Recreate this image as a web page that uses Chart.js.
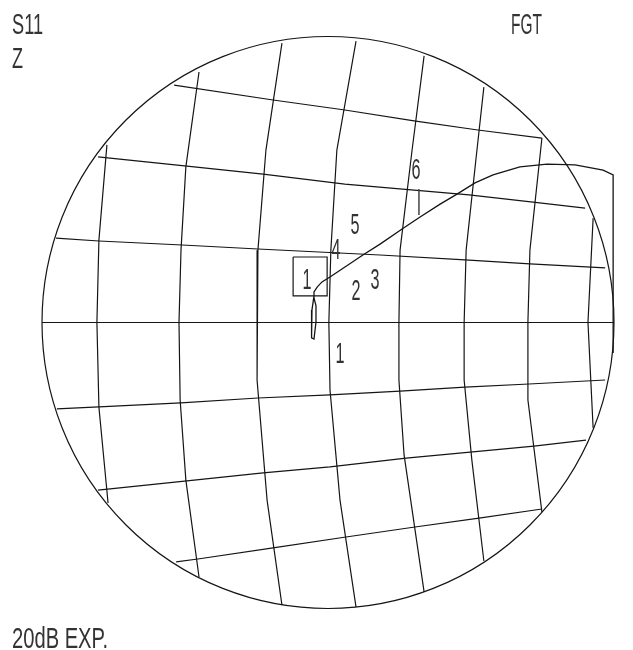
<!DOCTYPE html>
<html>
<head>
<meta charset="utf-8">
<script src="https://cdn.jsdelivr.net/npm/chart.js@4"></script>
<style>
  html, body { margin: 0; padding: 0; background: #fff; }
  #wrap { width: 633px; height: 650px; }
</style>
</head>
<body>
<div id="wrap"><canvas id="chart"></canvas></div>
<script>
// reflection coefficient plane, unit circle = |G| = 1
// near-vertical grid curves
const gridV = [
    [[-0.773, 0.621], [-0.801, 0.288], [-0.808, 0.0], [-0.801, -0.296], [-0.769, -0.631]],
    [[-0.451, 0.876], [-0.497, 0.544], [-0.514, 0.253], [-0.521, 0.0], [-0.517, -0.271], [-0.497, -0.551], [-0.451, -0.890]],
    [[-0.161, 0.977], [-0.217, 0.603], [-0.245, 0.253], [-0.248, 0.0], [-0.248, -0.201], [-0.213, -0.621], [-0.161, -0.988]],
    [[0.098, 0.984], [0.031, 0.603], [0.010, 0.253], [0.003, 0.0], [0.007, -0.236], [0.042, -0.621], [0.098, -0.995]],
    [[0.336, 0.932], [0.294, 0.603], [0.252, 0.253], [0.248, 0.0], [0.248, -0.201], [0.266, -0.463], [0.336, -0.942]],
    [[0.545, 0.823], [0.517, 0.568], [0.483, 0.253], [0.476, 0.0], [0.476, -0.201], [0.503, -0.481], [0.545, -0.834]],
    [[0.748, 0.645], [0.706, 0.253], [0.699, 0.0], [0.699, -0.271], [0.748, -0.663]],
    [[0.927, 0.365], [0.909, 0.0], [0.927, -0.369]]
];

// near-horizontal grid lines
const gridH = [
    [[-0.538, 0.830], [-0.192, 0.778], [0.059, 0.743], [0.301, 0.705], [0.524, 0.673], [0.748, 0.645]],
    [[-0.804, 0.579], [-0.493, 0.547], [-0.227, 0.519], [0.059, 0.484], [0.493, 0.446], [0.717, 0.421], [0.899, 0.400]],
    [[-0.951, 0.295], [-0.801, 0.285], [-0.510, 0.271], [-0.245, 0.257], [0.182, 0.236], [0.479, 0.219], [0.706, 0.205], [0.969, 0.191]],
    [[-1.0, 0.0], [1.0, 0.0]],
    [[-0.948, -0.302], [-0.801, -0.295], [-0.514, -0.281], [-0.245, -0.264], [0.007, -0.253], [0.252, -0.240], [0.479, -0.226], [0.703, -0.215], [0.969, -0.201]],
    [[-0.804, -0.586], [-0.493, -0.554], [-0.227, -0.526], [0.007, -0.505], [0.273, -0.474], [0.497, -0.453], [0.720, -0.432], [0.902, -0.411]],
    [[-0.531, -0.837], [-0.455, -0.827], [-0.192, -0.788], [0.063, -0.750], [0.304, -0.715], [0.528, -0.684], [0.748, -0.652]]
];

// measured S11 trace
const traceX = [-0.049, -0.056, -0.059, -0.056, -0.049, -0.042, -0.042, -0.049, -0.049, -0.038, -0.021, 0.007,
    0.122, 0.182, 0.259, 0.322, 0.392, 0.451, 0.514, 0.577, 0.671, 0.766, 0.864, 0.962, 0.997, 0.997];
const traceY = [0.093, 0.044, -0.009, -0.054, -0.058, 0.002, 0.058, 0.086, 0.107, 0.124, 0.142, 0.159,
    0.236, 0.274, 0.327, 0.369, 0.414, 0.449, 0.488, 0.516, 0.544, 0.554, 0.551, 0.533, 0.516, -0.107];

// active marker box
const boxX = [-0.122, -0.003, -0.003, -0.122, -0.122];
const boxY = [0.229, 0.229, 0.093, 0.093, 0.229];

// marker numbers
const markerText = ["1", "4", "5", "2", "3", "6", "1"];
const markerX = [-0.073, 0.028, 0.094, 0.098, 0.164, 0.308, 0.042];
const markerY = [0.145, 0.250, 0.337, 0.107, 0.145, 0.530, -0.114];

const ink = "#151515";

function toPts(pairs) {
    return pairs.map(p => ({ x: p[0], y: p[1] }));
}

function lineSet(points, width) {
    return {
        data: points,
        showLine: true,
        borderColor: ink,
        borderWidth: width,
        pointRadius: 0,
        tension: 0,
        fill: false
    };
}

const datasets = [];
gridV.forEach(l => datasets.push(lineSet(toPts(l), 1.2)));
gridH.forEach(l => datasets.push(lineSet(toPts(l), 1.2)));
datasets.push(lineSet(boxX.map((x, i) => ({ x, y: boxY[i] })), 1.2));
datasets.push(lineSet(traceX.map((x, i) => ({ x, y: traceY[i] })), 1.3));

const frame = {
    id: "frame",
    afterDatasetsDraw(chart) {
        const { ctx, scales: { x, y } } = chart;
        ctx.save();

        // outer circle
        const cx = x.getPixelForValue(0), cy = y.getPixelForValue(0);
        const r = x.getPixelForValue(1) - cx;
        ctx.strokeStyle = ink;
        ctx.lineWidth = 1.2;
        ctx.beginPath();
        ctx.arc(cx, cy, r, 0, Math.PI * 2);
        ctx.stroke();

        // pointer under marker 6
        ctx.strokeStyle = "#444";
        ctx.lineWidth = 1.5;
        ctx.beginPath();
        ctx.moveTo(x.getPixelForValue(0.318), y.getPixelForValue(0.467));
        ctx.lineTo(x.getPixelForValue(0.318), y.getPixelForValue(0.376));
        ctx.stroke();

        ctx.fillStyle = "#333";
        ctx.font = "29px 'Liberation Sans'";
        ctx.textAlign = "center";
        ctx.textBaseline = "middle";
        markerText.forEach((t, i) => {
            ctx.fillText(t, x.getPixelForValue(markerX[i]), y.getPixelForValue(markerY[i]), 9);
        });

        ctx.textAlign = "left";
        ctx.textBaseline = "alphabetic";
        ctx.fillText("S11", 12, 34, 31);
        ctx.fillText("Z", 12, 68, 11);
        ctx.fillText("FGT", 511, 34, 31);
        ctx.fillText("20dB EXP.", 12, 648, 96);
        ctx.restore();
    }
};

const chart = new Chart(document.getElementById("chart"), {
    type: "scatter",
    data: { datasets },
    options: {
        responsive: true,
        maintainAspectRatio: false,
        animation: false,
        layout: {
            padding: { left: 42, right: 19, top: 36.5, bottom: 41.5 }
        },
        plugins: {
            legend: { display: false },
            tooltip: { enabled: false }
        },
        scales: {
            x: { type: "linear", min: -1, max: 1, display: false },
            y: { type: "linear", min: -1, max: 1, display: false }
        }
    },
    plugins: [frame]
});
</script>
</body>
</html>
